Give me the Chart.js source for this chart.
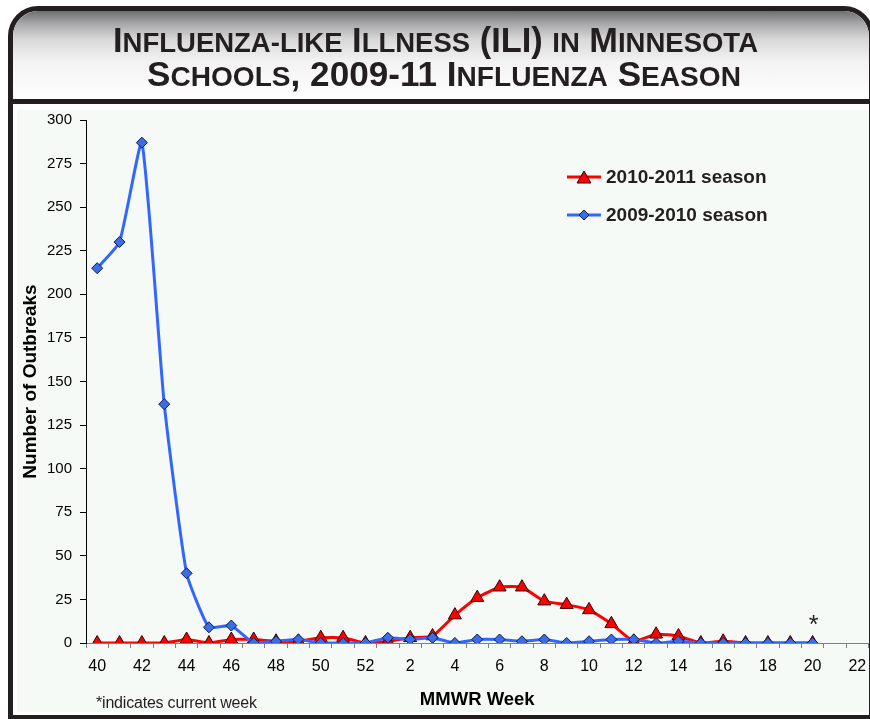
<!DOCTYPE html>
<html>
<head>
<meta charset="utf-8">
<script src="https://cdn.jsdelivr.net/npm/chart.js@4.4.0/dist/chart.umd.min.js"></script>
<style>
  html, body { margin: 0; padding: 0; background: #fff; }
  body { width: 870px; height: 719px; overflow: hidden; position: relative; font-family: "Liberation Sans", Arial, sans-serif; }
  #frame { position: absolute; left: 8px; top: 6px; width: 866px; height: 714px; border: 5px solid #231f20; border-radius: 30px 30px 0 0; box-sizing: border-box; }
  #header { position: absolute; left: 0; top: 0; right: 0; height: 88px; border-bottom: 5px solid #231f20; border-radius: 25px 25px 0 0;
            background: linear-gradient(to bottom, #6e6e71 0%, #a6a6a8 14%, #d8d8d9 32%, #f3f3f3 58%, #ffffff 100%); }
  .tline { position: absolute; white-space: nowrap; font-family: "Liberation Sans", Arial, sans-serif;
           font-weight: bold; font-size: 35px; line-height: 36px; color: #231f20; transform-origin: 0 0; }
  .tline .s { font-size: 28px; }
  #plotbg { position: absolute; left: 17px; top: 110px; width: 860px; height: 602px; background: #f5faf7; }
  #wrap { position: absolute; left: 17px; top: 103px; width: 860px; height: 609px; }
  #note { position: absolute; left: 96px; top: 694px; font-size: 16px; color: #231f20; letter-spacing: -0.2px; }
</style>
</head>
<body>
<div id="plotbg"></div>
<div id="wrap"><canvas id="iliChart" width="860" height="609"></canvas></div>
<div id="frame">
  <div id="header">
    <div class="tline" id="t1" style="left:100px; top:11px">I<span class="s">NFLUENZA-LIKE</span> I<span class="s">LLNESS</span> (ILI) <span class="s">IN</span> M<span class="s">INNESOTA</span></div>
    <div class="tline" id="t2" style="left:134px; top:45px">S<span class="s">CHOOLS</span>, 2009-11 I<span class="s">NFLUENZA</span> S<span class="s">EASON</span></div>
  </div>
</div>
<div id="note">*indicates current week</div>
<script>
// MMWR weeks on the x axis (Oct 2010 .. May 2011)
var weeks = ['40','41','42','43','44','45','46','47','48','49','50','51','52',
             '1','2','3','4','5','6','7','8','9','10','11','12','13','14','15','16','17','18','19','20','21','22'];

// outbreaks per week
var season1011 = [0,0,0,0,2,0,2,2,1,1,3,3,0,
                  1,3,4,16,26,32,32,24,22,19,11,1,5,4,0,1,0,0,0,0,null,null];
var season0910 = [215,230,287,137,40,9,10,0,1,2,0,0,0,
                  3,2,3,0,2,2,1,2,0,1,2,2,0,1,0,0,0,0,0,0,null,null];

var yTicks = { min: 0, max: 300, step: 25 };
var currentWeek = '20';

// squeeze the title lines to the condensed look of the original
function fitTitle(id, target) {
  var el = document.getElementById(id);
  var w = el.getBoundingClientRect().width;
  el.style.transform = 'scaleX(' + (target / w) + ')';
}
fitTitle('t1', 645);
fitTitle('t2', 594);

// legend drawn inside the plot, like the excel one
var insideLegend = {
  id: 'insideLegend',
  afterDraw: function(chart) {
    var ctx = chart.ctx;
    ctx.save();
    [0, 1].forEach(function(i) {
      var ds = chart.data.datasets[i];
      var y = 74 + i * 38;
      var x1 = 550, x2 = 584;
      ctx.strokeStyle = ds.borderColor;
      ctx.lineWidth = 3;
      ctx.beginPath();
      ctx.moveTo(x1, y);
      ctx.lineTo(x2, y);
      ctx.stroke();
      ctx.fillStyle = ds.pointBackgroundColor;
      ctx.strokeStyle = ds.pointBorderColor;
      ctx.lineWidth = 1;
      Chart.helpers.drawPoint(ctx, {
        pointStyle: ds.pointStyle,
        radius: ds.pointStyle === 'triangle' ? 8 : 5,
        borderWidth: 1,
        rotation: 0
      }, (x1 + x2) / 2, y + (ds.pointStyle === 'triangle' ? 2 : 0));
      ctx.fillStyle = '#231f20';
      ctx.font = 'bold 19px "Liberation Sans", Arial, sans-serif';
      ctx.textBaseline = 'middle';
      ctx.textAlign = 'left';
      ctx.fillText(ds.label, 589, y + 1);
    });
    ctx.restore();
  }
};

// asterisk above the current week
var currentMark = {
  id: 'currentMark',
  afterDatasetsDraw: function(chart) {
    var ctx = chart.ctx;
    var idx = weeks.indexOf(currentWeek);
    var x = chart.scales.x.getPixelForValue(idx);
    var y = chart.scales.y.getPixelForValue(0);
    ctx.save();
    ctx.fillStyle = '#231f20';
    ctx.font = '25px "Liberation Sans", Arial, sans-serif';
    ctx.textAlign = 'center';
    ctx.textBaseline = 'alphabetic';
    ctx.fillText('*', x + 1, y - 10);
    ctx.restore();
  }
};

var ctx = document.getElementById('iliChart').getContext('2d');
var iliChart = new Chart(ctx, {
  type: 'line',
  data: {
    labels: weeks,
    datasets: [{
      label: '2010-2011 season',
      data: season1011,
      borderColor: '#ff0000',
      borderWidth: 3,
      pointStyle: 'triangle',
      pointRadius: 7.5,
      pointBackgroundColor: '#ff0000',
      pointBorderColor: '#300000',
      pointBorderWidth: 1,
      tension: 0.15,
      order: 2
    }, {
      label: '2009-2010 season',
      data: season0910,
      borderColor: '#3366ff',
      borderWidth: 3,
      pointStyle: 'rectRot',
      pointRadius: 5.5,
      pointBackgroundColor: '#3a6ee8',
      pointBorderColor: '#10184a',
      pointBorderWidth: 1,
      tension: 0.15,
      order: 1
    }]
  },
  options: {
    responsive: false,
    animation: false,
    layout: { padding: { top: 0, right: 1, left: 0, bottom: 0 } },
    plugins: {
      legend: { display: false },
      tooltip: { enabled: false }
    },
    scales: {
      x: {
        type: 'category',
        offset: true,
        afterFit: function(scale) { scale.height = 69; },
        grid: { offset: true, drawOnChartArea: false, tickLength: 5, color: '#808080' },
        border: { display: true, color: '#808080' },
        ticks: {
          autoSkip: false,
          maxRotation: 0,
          padding: 9,
          color: '#000',
          font: { family: '"Liberation Sans", Arial, sans-serif', size: 16 },
          callback: function(v, i) { return i % 2 === 0 ? weeks[i] : ''; }
        },
        title: {
          display: true,
          text: 'MMWR Week',
          color: '#000',
          font: { family: '"Liberation Sans", Arial, sans-serif', size: 18.5, weight: 'bold' },
          padding: { top: 0, bottom: 1 }
        }
      },
      y: {
        min: yTicks.min,
        max: yTicks.max,
        afterFit: function(scale) { scale.width = 69; },
        grid: { drawOnChartArea: false, tickLength: 6, color: '#000' },
        border: { display: true, color: '#000' },
        ticks: {
          stepSize: yTicks.step,
          padding: 8,
          color: '#000',
          font: { family: '"Liberation Sans", Arial, sans-serif', size: 15 }
        },
        title: {
          display: true,
          text: 'Number of Outbreaks',
          color: '#000',
          font: { family: '"Liberation Sans", Arial, sans-serif', size: 19, weight: 'bold' },
          padding: { top: 2, bottom: 0 }
        }
      }
    }
  },
  plugins: [insideLegend, currentMark]
});
</script>
</body>
</html>
